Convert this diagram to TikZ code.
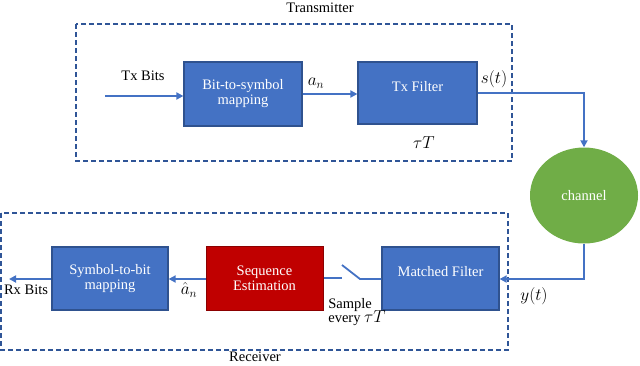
\documentclass[tikz,border=0pt]{standalone}
\usepackage{fontspec}
\setmainfont{Liberation Serif}
\usetikzlibrary{arrows.meta,shapes.geometric}
\definecolor{bbox}{HTML}{4472C4}
\definecolor{bedge}{HTML}{2F528F}
\definecolor{rbox}{HTML}{C00000}
\definecolor{redge}{HTML}{8B0000}
\definecolor{gbox}{HTML}{70AD47}
\definecolor{dash}{HTML}{2F5597}
\definecolor{wire}{HTML}{4472C4}
\begin{document}
\begin{tikzpicture}[x=1pt,y=-1pt,
  every node/.style={font=\fontsize{14.5}{16}\selectfont},
  blk/.style={draw=bedge,fill=bbox,line width=1.2pt,text=white,align=center,inner sep=0pt},
  rblk/.style={draw=redge,fill=rbox,line width=1pt,text=white,align=center,inner sep=0pt},
  grp/.style={draw=dash,dashed,dash pattern=on 5pt off 3pt,line width=1.3pt},
  wireline/.style={draw=wire,line width=1.8pt},
  arr/.style={wireline,-{Triangle[length=7pt,width=7pt]}},
  lbl/.style={inner sep=0pt,text=black},
  mlbl/.style={lbl,font=\fontsize{17}{19}\selectfont}]
\useasboundingbox (0,0) rectangle (640,365);
% groups
\draw[grp] (76,24) rectangle (512,161);
\draw[grp] (1,213) rectangle (508,350);
\node[lbl] (txl) at (320,8) {Transmitter};
\node[lbl] (rxl) at (255,357) {Receiver};
% transmitter blocks
\node[blk,minimum width=118pt,minimum height=64pt] (b2s) at (243,94) {Bit-to-symbol\\[-1pt]mapping};
\node[blk,minimum width=119pt,minimum height=62pt] (txf) at (417.5,93) {Tx Filter\\[-2pt]\phantom{x}};
\node[ellipse,fill=gbox,minimum width=108pt,minimum height=96pt,inner sep=0pt,text=white] (ch) at (584,195.5) {channel};
% receiver blocks
\node[blk,minimum width=116pt,minimum height=63pt] (s2b) at (110,278.5) {Symbol-to-bit\\[-1pt]mapping};
\node[rblk,minimum width=117pt,minimum height=64pt] (seq) at (264.5,278) {Sequence\\[-1pt]Estimation};
\node[blk,minimum width=117pt,minimum height=63pt] (mf) at (440.5,278.5) {Matched Filter\\[-2pt]\phantom{x}};
% labels
\node[lbl] (txb) at (143,76) {Tx Bits};
\node[mlbl] (an) at (316,83) {$a_n$};
\node[mlbl] (st) at (494,79) {$s(t)$};
\node[mlbl] (tau) at (424,143) {$\tau T$};
\node[mlbl] (yt) at (534,296) {$y(t)$};
\node[lbl,align=left] (samp) at (357,312) {Sample\\[-2pt]every {\fontsize{17}{19}\selectfont$\tau T$}};
\node[mlbl] (ahat) at (189,290) {$\hat{a}_n$};
\node[lbl] (rxb) at (26,290) {Rx Bits};
% coordinates
\coordinate (txin) at (105,96);
\coordinate (rxout) at (9,279);
\coordinate (sw1) at (342,278);
\coordinate (sw2) at (342,265);
\coordinate (sw3) at (360,279);
% connectors
\draw[arr] (txin) -- (b2s.west |- txin);
\draw[arr] (b2s.east |- 0,94) -- (txf.west |- 0,94);
\draw[arr] (txf.east |- 0,93) -| (ch.north);
\draw[arr] (ch.south) |- (mf.east |- 0,279);
\draw[wireline] (seq.east |- sw1) -- (sw1);
\draw[wireline] (sw2) -- (sw3) -- (mf.west |- sw3);
\draw[arr] (seq.west |- 0,279) -- (s2b.east |- 0,279);
\draw[arr] (s2b.west |- rxout) -- (rxout);
\end{tikzpicture}
\end{document}
